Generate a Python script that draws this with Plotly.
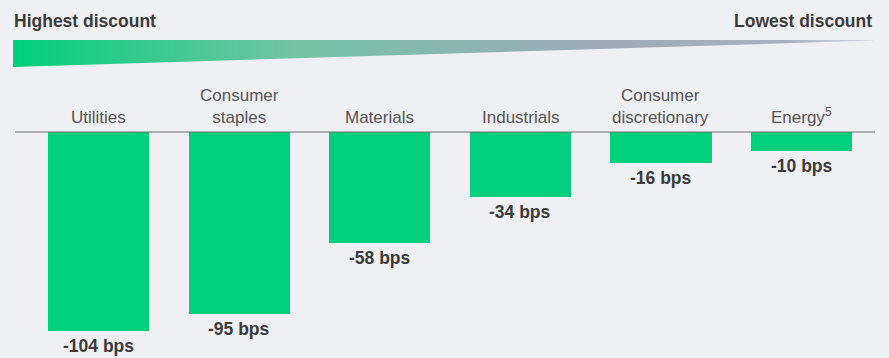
import plotly.graph_objects as go

# Sector discount data (basis points)
sectors = ["Utilities", "Consumer<br>staples", "Materials", "Industrials",
           "Consumer<br>discretionary", "Energy<sup>5</sup>"]
discount_bps = [-104, -95, -58, -34, -16, -10]
value_labels = [f"{v} bps" for v in discount_bps]

BG = "#eff0f4"
GREEN = "#00cf7b"
TEXT_DARK = "#3b3b3b"
TEXT_MID = "#555555"
FONT = "Liberation Sans, Arial, sans-serif"

xs = list(range(len(sectors)))

fig = go.Figure()

fig.add_trace(go.Bar(
    x=xs, y=discount_bps,
    marker=dict(color=GREEN, line=dict(width=0)),
    width=0.72,
    hoverinfo="skip",
))

# Gradient wedge from "Highest" to "Lowest" discount, drawn on a pixel-like overlay axis
fig.add_trace(go.Scatter(
    x=[13, 873, 873, 13, 13],
    y=[40, 40, 40.6, 67, 40],
    xaxis="x2", yaxis="y2",
    mode="lines",
    line=dict(width=0, color="rgba(0,0,0,0)"),
    fill="toself",
    fillgradient=dict(
        type="horizontal",
        colorscale=[[0, "#00cf7b"], [0.33, "#75c3a7"], [0.68, "#9eaab7"],
                    [0.9, "#a9b0bd"], [1, "#d5d8e0"]],
    ),
    hoverinfo="skip",
    showlegend=False,
))

# Value labels under each bar
for i, (v, lab) in enumerate(zip(discount_bps, value_labels)):
    fig.add_annotation(
        x=i, y=v, xref="x", yref="y",
        text=lab, showarrow=False,
        yanchor="top", yshift=-3,
        font=dict(family=FONT, size=17.5, color=TEXT_DARK, weight="bold"),
    )

# Category labels above the baseline
for i, s in enumerate(sectors):
    fig.add_annotation(
        x=i, y=0, xref="x", yref="y",
        text=s, showarrow=False,
        yanchor="bottom", yshift=3,
        font=dict(family=FONT, size=17, color=TEXT_MID),
        align="center",
    )

fig.add_annotation(
    x=12, y=21, xref="x2", yref="y2", text="Highest discount",
    showarrow=False, xanchor="left", yanchor="middle",
    font=dict(family=FONT, size=17.5, color=TEXT_DARK, weight="bold"),
)
fig.add_annotation(
    x=874, y=21, xref="x2", yref="y2", text="Lowest discount",
    showarrow=False, xanchor="right", yanchor="middle",
    font=dict(family=FONT, size=17.5, color=TEXT_DARK, weight="bold"),
)

# Baseline
fig.add_shape(
    type="line", xref="x2", yref="y",
    x0=15, x1=875, y0=0, y1=0,
    line=dict(color="#6e6e6e", width=1.2),
)

fig.update_layout(
    width=889, height=358,
    margin=dict(l=0, r=0, t=0, b=0),
    paper_bgcolor=BG, plot_bgcolor=BG,
    showlegend=False,
    bargap=0,
    xaxis=dict(range=[-0.7006, 5.622], visible=False, fixedrange=True),
    yaxis=dict(range=[-118.0, 68.9], visible=False, fixedrange=True),
    xaxis2=dict(range=[0, 889], overlaying="x", visible=False, fixedrange=True),
    yaxis2=dict(range=[358, 0], overlaying="y", visible=False, fixedrange=True),
)

fig.write_html("out.html")
